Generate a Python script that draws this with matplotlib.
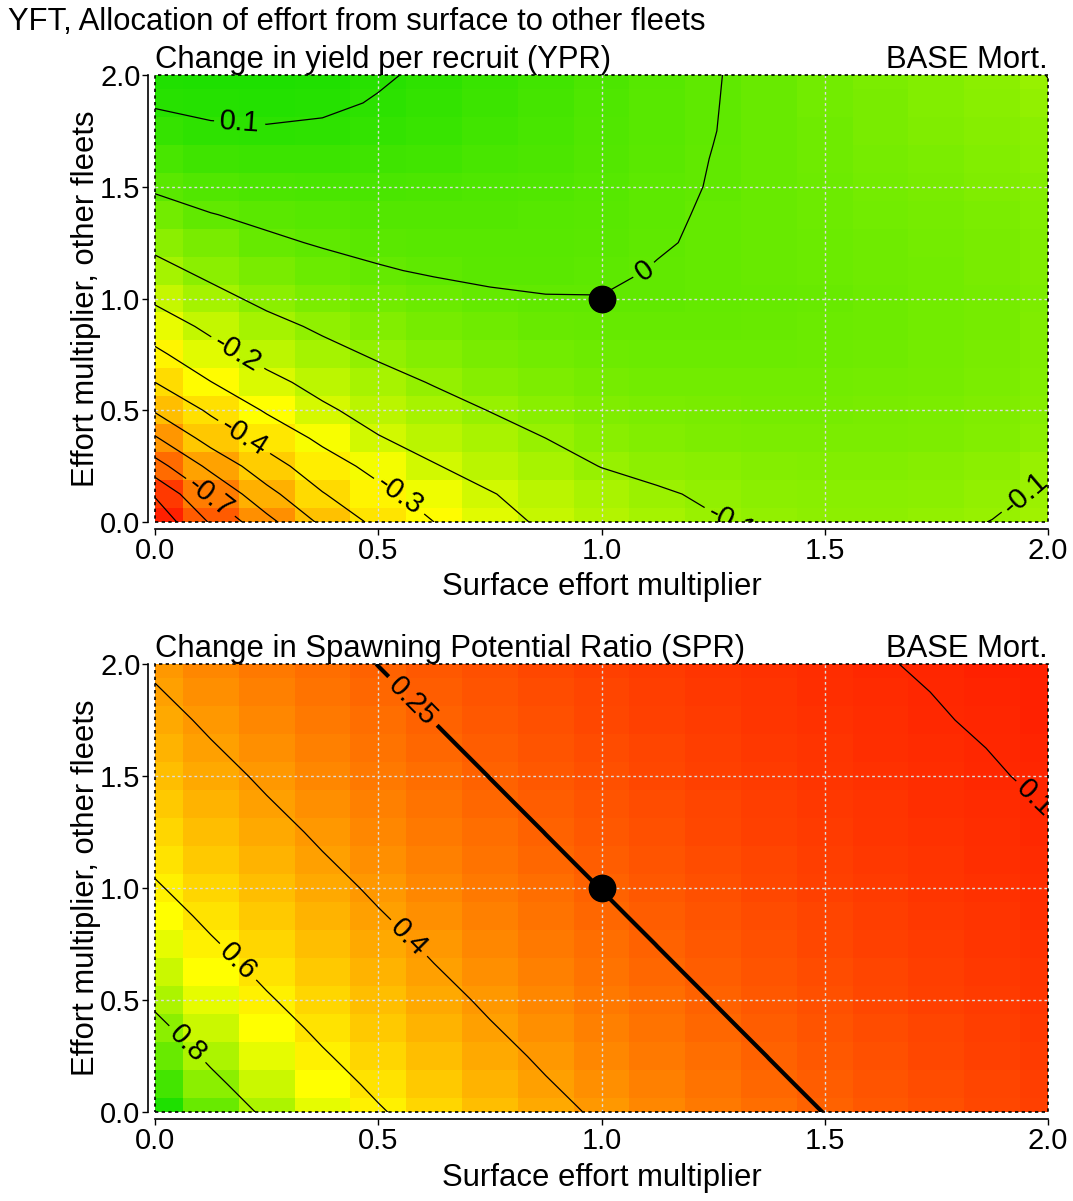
import numpy as np
import matplotlib
matplotlib.use('Agg')
import matplotlib.pyplot as plt
from matplotlib.colors import LinearSegmentedColormap
from matplotlib.patches import Rectangle

plt.rcParams['font.family'] = ['Liberation Sans', 'DejaVu Sans']

# grid of effort multipliers (surface on x, other fleets on y)
surface_mult = [0.0, 0.125, 0.25, 0.375, 0.5, 0.625, 0.75, 0.875, 1.0,
                1.125, 1.25, 1.375, 1.5, 1.625, 1.75, 1.875, 2.0]
other_mult = [0.0, 0.125, 0.25, 0.375, 0.5, 0.625, 0.75, 0.875, 1.0,
              1.125, 1.25, 1.375, 1.5, 1.625, 1.75, 1.875, 2.0]

# change in YPR, one row per "other fleets" multiplier (bottom row first)
ypr = [
    [-0.97, -0.79, -0.63, -0.48, -0.375, -0.30, -0.235, -0.185, -0.15, -0.125, -0.105, -0.09, -0.083, -0.082, -0.09, -0.101, -0.118],
    [-0.89, -0.69, -0.53, -0.405, -0.325, -0.26, -0.205, -0.165, -0.133, -0.108, -0.09, -0.078, -0.072, -0.072, -0.078, -0.09, -0.107],
    [-0.74, -0.575, -0.44, -0.345, -0.27, -0.205, -0.165, -0.13, -0.098, -0.082, -0.072, -0.065, -0.062, -0.063, -0.068, -0.079, -0.098],
    [-0.61, -0.46, -0.365, -0.28, -0.205, -0.165, -0.132, -0.10, -0.075, -0.06, -0.052, -0.048, -0.047, -0.048, -0.053, -0.062, -0.08],
    [-0.49, -0.385, -0.29, -0.215, -0.165, -0.13, -0.098, -0.075, -0.058, -0.048, -0.043, -0.041, -0.041, -0.043, -0.048, -0.057, -0.07],
    [-0.40, -0.302, -0.225, -0.17, -0.128, -0.095, -0.07, -0.052, -0.04, -0.033, -0.03, -0.03, -0.031, -0.034, -0.04, -0.05, -0.063],
    [-0.32, -0.235, -0.17, -0.125, -0.09, -0.064, -0.045, -0.032, -0.024, -0.02, -0.019, -0.02, -0.023, -0.027, -0.034, -0.044, -0.058],
    [-0.25, -0.18, -0.125, -0.087, -0.06, -0.04, -0.026, -0.016, -0.011, -0.01, -0.011, -0.014, -0.018, -0.023, -0.03, -0.04, -0.055],
    [-0.185, -0.125, -0.08, -0.05, -0.03, -0.017, -0.007, -0.002, -0.001, -0.003, -0.007, -0.011, -0.016, -0.022, -0.03, -0.04, -0.054],
    [-0.125, -0.08, -0.045, -0.02, -0.004, 0.005, 0.01, 0.011, 0.007, -0.002, -0.007, -0.012, -0.018, -0.025, -0.033, -0.043, -0.055],
    [-0.08, -0.042, -0.01, 0.005, 0.013, 0.017, 0.018, 0.016, 0.011, 0.003, -0.005, -0.012, -0.019, -0.027, -0.036, -0.046, -0.057],
    [-0.03, -0.002, 0.013, 0.021, 0.025, 0.026, 0.024, 0.02, 0.014, 0.006, -0.004, -0.012, -0.021, -0.031, -0.041, -0.05, -0.061],
    [0.01, 0.027, 0.037, 0.042, 0.042, 0.039, 0.034, 0.027, 0.019, 0.009, -0.002, -0.012, -0.023, -0.034, -0.045, -0.055, -0.066],
    [0.045, 0.062, 0.069, 0.069, 0.065, 0.058, 0.048, 0.037, 0.025, 0.013, -0.001, -0.013, -0.026, -0.038, -0.05, -0.061, -0.072],
    [0.08, 0.093, 0.096, 0.093, 0.085, 0.074, 0.06, 0.045, 0.03, 0.016, 0.001, -0.014, -0.028, -0.042, -0.055, -0.068, -0.08],
    [0.105, 0.112, 0.113, 0.108, 0.097, 0.084, 0.068, 0.051, 0.034, 0.018, 0.002, -0.015, -0.031, -0.046, -0.06, -0.075, -0.092],
    [0.12, 0.125, 0.125, 0.118, 0.105, 0.092, 0.075, 0.057, 0.038, 0.02, 0.003, -0.015, -0.032, -0.048, -0.063, -0.08, -0.101],
]

# SPR, same layout
spr = [
    [1.000, 0.882, 0.780, 0.690, 0.612, 0.544, 0.484, 0.431, 0.385, 0.344, 0.308, 0.277, 0.249, 0.224, 0.202, 0.183, 0.165],
    [0.939, 0.829, 0.733, 0.650, 0.577, 0.513, 0.456, 0.407, 0.364, 0.326, 0.292, 0.262, 0.236, 0.213, 0.192, 0.174, 0.157],
    [0.882, 0.780, 0.690, 0.612, 0.544, 0.484, 0.431, 0.385, 0.344, 0.308, 0.277, 0.249, 0.224, 0.202, 0.183, 0.165, 0.150],
    [0.829, 0.733, 0.650, 0.577, 0.513, 0.456, 0.407, 0.364, 0.326, 0.292, 0.262, 0.236, 0.213, 0.192, 0.174, 0.157, 0.143],
    [0.780, 0.690, 0.612, 0.544, 0.484, 0.431, 0.385, 0.344, 0.308, 0.277, 0.249, 0.224, 0.202, 0.183, 0.165, 0.150, 0.136],
    [0.733, 0.650, 0.577, 0.513, 0.456, 0.407, 0.364, 0.326, 0.292, 0.262, 0.236, 0.213, 0.192, 0.174, 0.157, 0.143, 0.130],
    [0.690, 0.612, 0.544, 0.484, 0.431, 0.385, 0.344, 0.308, 0.277, 0.249, 0.224, 0.202, 0.183, 0.165, 0.150, 0.136, 0.124],
    [0.650, 0.577, 0.513, 0.456, 0.407, 0.364, 0.326, 0.292, 0.262, 0.236, 0.213, 0.192, 0.174, 0.157, 0.143, 0.130, 0.118],
    [0.612, 0.544, 0.484, 0.431, 0.385, 0.344, 0.308, 0.277, 0.249, 0.224, 0.202, 0.183, 0.165, 0.150, 0.136, 0.124, 0.113],
    [0.577, 0.513, 0.456, 0.407, 0.364, 0.326, 0.292, 0.262, 0.236, 0.213, 0.192, 0.174, 0.157, 0.143, 0.130, 0.118, 0.108],
    [0.544, 0.484, 0.431, 0.385, 0.344, 0.308, 0.277, 0.249, 0.224, 0.202, 0.183, 0.165, 0.150, 0.136, 0.124, 0.113, 0.103],
    [0.513, 0.456, 0.407, 0.364, 0.326, 0.292, 0.262, 0.236, 0.213, 0.192, 0.174, 0.157, 0.143, 0.130, 0.118, 0.108, 0.099],
    [0.484, 0.431, 0.385, 0.344, 0.308, 0.277, 0.249, 0.224, 0.202, 0.183, 0.165, 0.150, 0.136, 0.124, 0.113, 0.103, 0.094],
    [0.456, 0.407, 0.364, 0.326, 0.292, 0.262, 0.236, 0.213, 0.192, 0.174, 0.157, 0.143, 0.130, 0.118, 0.108, 0.099, 0.090],
    [0.431, 0.385, 0.344, 0.308, 0.277, 0.249, 0.224, 0.202, 0.183, 0.165, 0.150, 0.136, 0.124, 0.113, 0.103, 0.094, 0.086],
    [0.407, 0.364, 0.326, 0.292, 0.262, 0.236, 0.213, 0.192, 0.174, 0.157, 0.143, 0.130, 0.118, 0.108, 0.099, 0.090, 0.083],
    [0.385, 0.344, 0.308, 0.277, 0.249, 0.224, 0.202, 0.183, 0.165, 0.150, 0.136, 0.124, 0.113, 0.103, 0.094, 0.086, 0.079],
]

ypr_levels = [-0.9, -0.8, -0.7, -0.6, -0.5, -0.4, -0.3, -0.2, -0.1, 0.0, 0.1]
spr_levels = [0.1, 0.4, 0.6, 0.8]
spr_ref = 0.25
base_point = (1.0, 1.0)
tick_vals = [0.0, 0.5, 1.0, 1.5, 2.0]
tick_text = ['0.0', '0.5', '1.0', '1.5', '2.0']

# where the contour labels sit: level -> list of (x, y)
ypr_labels = {0.1: [(0.19, 1.80)], 0.0: [(1.10, 1.11)], -0.2: [(0.18, 0.74)],
              -0.4: [(0.19, 0.35)], -0.3: [(0.54, 0.10)], -0.7: [(0.12, 0.10)],
              -0.1: [(1.31, 0.04), (1.95, 0.13)]}
spr_labels = {0.25: [(0.57, 1.82)], 0.4: [(0.56, 0.76)], 0.6: [(0.17, 0.64)],
              0.8: [(0.065, 0.29)], 0.1: [(1.98, 1.42)]}

FS = 22.3
TICK_FS = 21
cmap = LinearSegmentedColormap.from_list(
    'ryg', [(0.0, '#ff2000'), (0.62, '#ffff00'), (1.0, '#1ee000')])


def fmt(v):
    return '%g' % v


def panel(ax, Z, levels, labels, subtitle, ref=None):
    Z = np.array(Z)
    ax.pcolormesh(surface_mult, other_mult, Z, shading='nearest', cmap=cmap,
                  vmin=Z.min(), vmax=Z.max(), zorder=1)
    for v in [0.5, 1.0, 1.5]:
        ax.axvline(v, color='#dcdcdc', ls=(0, (2, 2)), lw=1, zorder=2)
        ax.axhline(v, color='#dcdcdc', ls=(0, (2, 2)), lw=1, zorder=2)
    all_levels = list(levels)
    if ref is not None:
        all_levels.append(ref)
    for lv in all_levels:
        lw = 3 if lv == ref else 0.9
        cs = ax.contour(surface_mult, other_mult, Z, levels=[lv], colors='black',
                        linewidths=lw, linestyles='solid', zorder=3)
        if lv in labels:
            cs.clabel(manual=labels[lv], inline=True, fontsize=TICK_FS, fmt=fmt,
                      inline_spacing=4)
            for t in cs.labelTexts:
                t.set_clip_on(True)
                t.set_zorder(4)
    ax.plot(base_point[0], base_point[1], 'o', color='black', ms=19, zorder=5)

    ax.set_xlim(0, 2)
    ax.set_ylim(0, 2)
    ax.set_xticks(tick_vals)
    ax.set_xticklabels(tick_text)
    ax.set_yticks(tick_vals)
    ax.set_yticklabels(tick_text)
    ax.tick_params(direction='out', length=4.5, width=1, labelsize=TICK_FS, pad=1.0)
    for s in ['top', 'right']:
        ax.spines[s].set_visible(False)
    for s in ['left', 'bottom']:
        ax.spines[s].set_position(('outward', 5))
        ax.spines[s].set_linewidth(1.2)
    ax.add_patch(Rectangle((0, 0), 1, 1, transform=ax.transAxes, fill=False,
                           ls=(0, (2, 2)), lw=1.2, color='black', zorder=6,
                           clip_on=False))
    ax.text(0, 1.001, subtitle, transform=ax.transAxes, ha='left', va='bottom',
            fontsize=FS)
    ax.text(1, 1.001, 'BASE Mort.', transform=ax.transAxes, ha='right',
            va='bottom', fontsize=FS)
    ax.text(0.5, -0.146, 'Surface effort multiplier', transform=ax.transAxes,
            ha='center', va='center', fontsize=FS)
    ax.text(-0.077, 0.5, 'Effort multiplier, other fleets', transform=ax.transAxes,
            ha='center', va='center', rotation=90, fontsize=FS)


fig = plt.figure(figsize=(10.73, 12.01), dpi=100)
ax1 = fig.add_axes([0.14446, 0.56536, 0.83225, 0.37219])
ax2 = fig.add_axes([0.14446, 0.07369, 0.83225, 0.37344])

panel(ax1, ypr, ypr_levels, ypr_labels, 'Change in yield per recruit (YPR)')
panel(ax2, spr, spr_levels, spr_labels, 'Change in Spawning Potential Ratio (SPR)',
      ref=spr_ref)

fig.text(8 / 1073, 1 - 22 / 1201, 'YFT, Allocation of effort from surface to other fleets',
         ha='left', va='center', fontsize=FS)

fig.savefig('out.png', dpi=100)
